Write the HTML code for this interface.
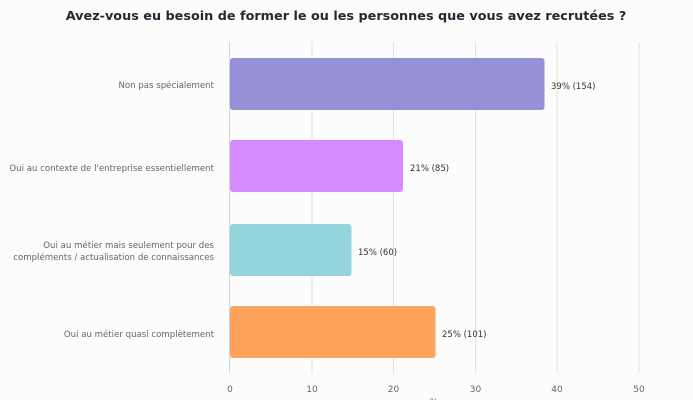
<!DOCTYPE html>
<html><head><meta charset="utf-8"><style>
html,body{margin:0;padding:0;background:#fcfcfc;}
svg{display:block;font-family:"DejaVu Sans","Liberation Sans",sans-serif;}
</style></head><body>
<svg width="693" height="400" xmlns="http://www.w3.org/2000/svg">
<rect width="693" height="400" fill="#fcfcfc"/>
<text x="346" y="20" text-anchor="middle" font-size="12.8" font-weight="bold" fill="#222a33">Avez-vous eu besoin de former le ou les personnes que vous avez recrutées ?</text>
<g stroke="#e2e2e2" stroke-width="1">
<line x1="312" y1="42" x2="312" y2="373"/>
<line x1="393.5" y1="42" x2="393.5" y2="373"/>
<line x1="475.5" y1="42" x2="475.5" y2="373"/>
<line x1="557" y1="42" x2="557" y2="373"/>
<line x1="639" y1="42" x2="639" y2="373"/>
</g>
<line x1="229.5" y1="42" x2="229.5" y2="373" stroke="#cdd3e8" stroke-width="1"/>
<rect x="230" y="58" width="314.5" height="52" rx="3" fill="#9690d6"/>
<rect x="230" y="140" width="173" height="52" rx="3" fill="#d68bfc"/>
<rect x="230" y="224" width="121.5" height="52" rx="3" fill="#94d4dc"/>
<rect x="230" y="306" width="205.5" height="52" rx="3" fill="#ffa25b"/>
<g font-size="8.5" fill="#333">
<text x="551" y="89">39% (154)</text>
<text x="410" y="171">21% (85)</text>
<text x="358" y="255">15% (60)</text>
<text x="442" y="337">25% (101)</text>
</g>
<g font-size="8.6" fill="#666" text-anchor="end">
<text x="214" y="88">Non pas spécialement</text>
<text x="214" y="171">Oui au contexte de l'entreprise essentiellement</text>
<text x="214" y="248">Oui au métier mais seulement pour des</text>
<text x="214" y="260">compléments / actualisation de connaissances</text>
<text x="214" y="337">Oui au métier quasi complètement</text>
</g>
<g font-size="9" fill="#666" text-anchor="middle">
<text x="230" y="392">0</text>
<text x="312" y="392">10</text>
<text x="393.5" y="392">20</text>
<text x="475.5" y="392">30</text>
<text x="557" y="392">40</text>
<text x="639" y="392">50</text>
<text x="434" y="405">%</text>
</g>
</svg>
</body></html>
